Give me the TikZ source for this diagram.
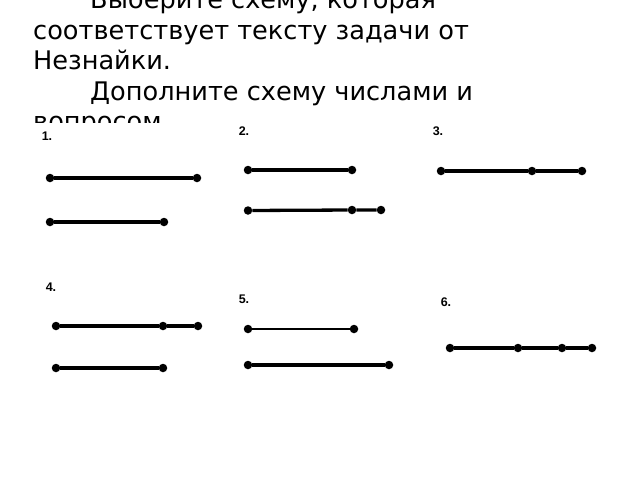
\documentclass[tikz,border=0pt]{standalone}
\usepackage{fontspec}
\setmainfont{DejaVu Sans}
\newfontfamily\numfont{Liberation Sans}
\usepackage{tikz}
\definecolor{schemeblack}{RGB}{0,0,0}

\tikzset{
  task/.style={anchor=base west, inner sep=0pt, font=\fontsize{25.6}{30}\selectfont},
  numlabel/.style={inner sep=0pt, font=\numfont\bfseries\fontsize{12.5}{14}\selectfont},
  dot/.style={circle, fill=schemeblack, inner sep=0pt, minimum size=8.5pt},
  seg/.style={schemeblack, line width=3.3pt},
}

\begin{document}
\begin{tikzpicture}[x=1pt, y=-1pt]
  \useasboundingbox (0,0) rectangle (640,480);
  % task text, cut off at the top and at the schemes
  \begin{scope}
    \clip (0,0) rectangle (640,122);
    \node[task] (line1) at (90,8)   {Выберите схему, которая};
    \node[task] (line2) at (33,39)  {соответствует тексту задачи от};
    \node[task] (line3) at (33,69)  {Незнайки.};
    \node[task] (line4) at (90,100) {Дополните схему числами и};
    \node[task] (line5) at (33,130) {вопросом.};
  \end{scope}
  % numbers of the schemes
  \node[numlabel] (n1) at (47,136) {1.};
  \node[numlabel] (n2) at (244,131) {2.};
  \node[numlabel] (n3) at (438,131) {3.};
  \node[numlabel] (n4) at (51,287) {4.};
  \node[numlabel] (n5) at (244,299) {5.};
  \node[numlabel] (n6) at (446,302) {6.};
  % scheme 1
  \node[dot] (s1a) at (50,178) {};
  \node[dot] (s1b) at (197,178) {};
  \node[dot] (s1c) at (50,222) {};
  \node[dot] (s1d) at (164,222) {};
  \draw[seg] (s1a) -- (s1b);
  \draw[seg] (s1c) -- (s1d);
  % scheme 2
  \node[dot] (s2a) at (248,170) {};
  \node[dot] (s2b) at (352,170) {};
  \node[dot] (s2c) at (248,210.5) {};
  \node[dot] (s2d) at (352,210) {};
  \node[dot] (s2e) at (381,210) {};
  \draw[seg] (s2a) -- (s2b);
  \draw[seg] (s2c) -- (s2d) -- (s2e);
  % scheme 3
  \node[dot] (s3a) at (441,171) {};
  \node[dot] (s3b) at (532,171) {};
  \node[dot] (s3c) at (582,171) {};
  \draw[seg] (s3a) -- (s3b) -- (s3c);
  % scheme 4
  \node[dot] (s4a) at (56,326) {};
  \node[dot] (s4b) at (163,326) {};
  \node[dot] (s4c) at (198,326) {};
  \node[dot] (s4d) at (56,368) {};
  \node[dot] (s4e) at (163,368) {};
  \draw[seg] (s4a) -- (s4b) -- (s4c);
  \draw[seg] (s4d) -- (s4e);
  % scheme 5
  \node[dot] (s5a) at (248,329) {};
  \node[dot] (s5b) at (354,329) {};
  \node[dot] (s5c) at (248,365) {};
  \node[dot] (s5d) at (389,365) {};
  \draw[seg, line width=2.6pt] (s5a) -- (s5b);
  \draw[seg, line width=3.6pt] (s5c) -- (s5d);
  % scheme 6
  \node[dot] (s6a) at (450,348) {};
  \node[dot] (s6b) at (518,348) {};
  \node[dot] (s6c) at (562,348) {};
  \node[dot] (s6d) at (592,348) {};
  \draw[seg] (s6a) -- (s6b) -- (s6c) -- (s6d);
\end{tikzpicture}
\end{document}
